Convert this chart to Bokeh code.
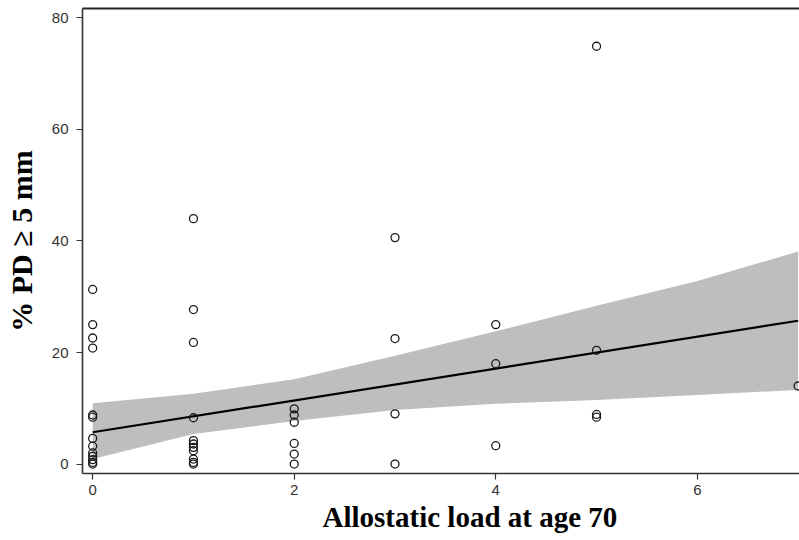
from bokeh.plotting import figure
from bokeh.models import Range1d, FixedTicker, LinearAxis, Title
from bokeh.embed import file_html
from bokeh.resources import INLINE

# Data
allostatic_load = ([0]*13 + [1]*11 + [2]*6 + [3]*4 + [4]*3 + [5]*4 + [7])
pct_pd = [31.3, 25.0, 22.6, 20.8, 8.8, 8.4, 4.6, 3.2, 2.0, 1.4, 0.8, 0.3, 0.0,
          44.0, 27.7, 21.8, 8.3, 4.2, 3.6, 3.0, 2.4, 0.9, 0.3, 0.0,
          9.9, 8.8, 7.5, 3.7, 1.8, 0.0,
          40.6, 22.5, 9.0, 0.0,
          25.0, 18.0, 3.3,
          74.9, 20.4, 8.9, 8.4,
          14.0]

fit_x = [0, 7]
fit_y = [5.7, 25.7]

band_x = [0, 1, 2, 3, 4, 5, 6, 7]
band_upper = [10.9, 12.6, 15.2, 19.4, 23.8, 28.4, 32.8, 38.1]
band_lower = [0.9, 5.4, 7.7, 9.7, 10.8, 11.5, 12.4, 13.3]

x_ticks = [0, 2, 4, 6]
y_ticks = [0, 20, 40, 60, 80]

p = figure(width=799, height=540, output_backend="svg", toolbar_location=None,
           x_range=Range1d(-0.101, 7.014), y_range=Range1d(-1.69, 81.67),
           min_border_left=82, min_border_right=0, min_border_top=8, min_border_bottom=67)
p.outline_line_color = None
p.grid.visible = False
p.background_fill_color = "white"
p.border_fill_color = "white"

p.varea(x=band_x, y1=band_lower, y2=band_upper, fill_color="#bebebe")
p.line(fit_x, fit_y, line_color="black", line_width=2.2)
p.scatter(allostatic_load, pct_pd, marker="circle", size=8, fill_color=None,
          line_color="#1a1a1a", line_width=1.3)

for ax in (p.xaxis[0], p.yaxis[0]):
    ax.minor_tick_line_color = None
    ax.major_tick_in = 0
    ax.major_tick_out = 6
    ax.axis_line_color = "#333333"
    ax.axis_line_width = 1.6
    ax.major_tick_line_color = "#333333"
    ax.major_tick_line_width = 1.2
    ax.major_label_text_font = "Liberation Sans"
    ax.major_label_text_font_size = "15px"
    ax.major_label_text_color = "#333333"
    ax.axis_label_text_font = "Liberation Serif"
    ax.axis_label_text_font_style = "bold"
    ax.axis_label_text_font_size = "30px"
    ax.axis_label_text_color = "black"

p.xaxis.ticker = FixedTicker(ticks=x_ticks)
p.yaxis.ticker = FixedTicker(ticks=y_ticks)
p.yaxis.axis_label = "% PD \u2265 5 mm"
p.xaxis.major_label_standoff = 5
p.yaxis.major_label_standoff = 8
p.yaxis.axis_label_standoff = 11
p.yaxis.major_label_orientation = "horizontal"

xtitle = Title(text="Allostatic load at age 70", align="left", offset=240, standoff=3,
               text_font="Liberation Serif", text_font_style="bold", text_font_size="29px",
               text_color="black")
p.add_layout(xtitle, "below")

top = LinearAxis(ticker=FixedTicker(ticks=[]), axis_line_color="#222222", axis_line_width=2,
                 major_tick_line_color=None, minor_tick_line_color=None,
                 major_label_text_font_size="0px")
p.add_layout(top, "above")

open("out.html", "w").write(file_html(p, INLINE))
